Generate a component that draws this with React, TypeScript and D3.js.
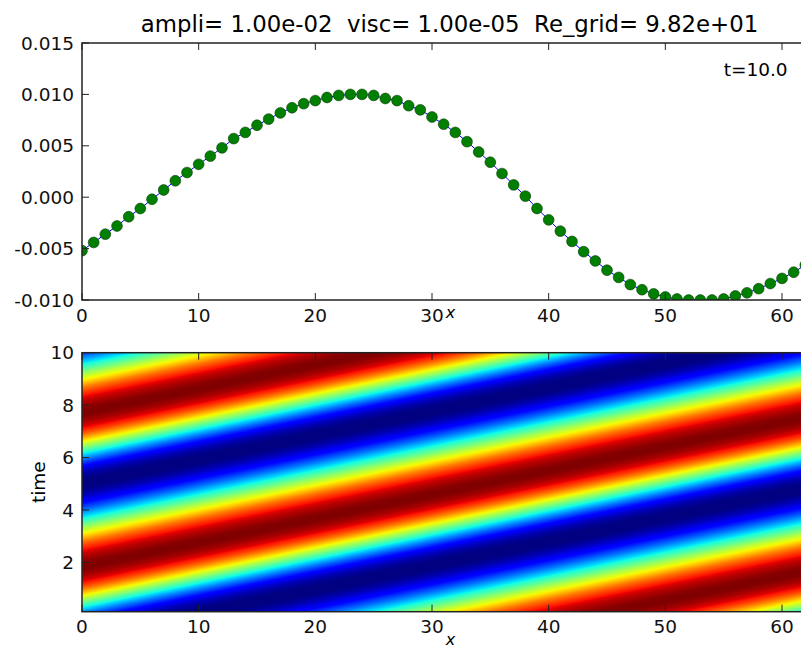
import React, { useEffect, useRef } from "react";
import * as d3 from "d3";

const W = 801;
const H = 651;

const title = "ampli= 1.00e-02  visc= 1.00e-05  Re_grid= 9.82e+01";
const timeLabel = "t=10.0";

// u at t = 10, one value per grid index
const uFinal = [
  -0.0052, -0.0044, -0.0036, -0.0028, -0.0019, -0.0011, -0.0002, 0.0007,
  0.0016, 0.0024, 0.0032, 0.004, 0.0048, 0.0057, 0.0063, 0.007,
  0.0076, 0.0082, 0.0087, 0.0091, 0.0094, 0.0097, 0.0099, 0.01,
  0.01, 0.0099, 0.0096, 0.0094, 0.0089, 0.0085, 0.0078, 0.0071,
  0.0063, 0.0054, 0.0044, 0.0034, 0.0023, 0.0012, 0.0001, -0.0011,
  -0.0022, -0.0033, -0.0043, -0.0053, -0.0062, -0.0071, -0.0078, -0.0085,
  -0.009, -0.0094, -0.0097, -0.0099, -0.01, -0.01, -0.01, -0.0099,
  -0.0096, -0.0093, -0.0089, -0.0084, -0.0079, -0.0073, -0.0066, -0.0059,
];

const xTicks = [0, 10, 20, 30, 40, 50, 60];
const uTicks = [-0.01, -0.005, 0.0, 0.005, 0.01, 0.015];
const tTicks = [2, 4, 6, 8, 10];
const xDomain = [0, 63];
const uDomain = [-0.01, 0.015];
const tDomain = [0.12, 10];
const colorDomain = [-0.01, 0.01];
// drift of the bands in the x-t map (grid index per unit time) and their offset
const bandSpeed = 10.9;
const bandOffset = -1.5;
const tFinal = 10;

// matplotlib "jet" stops
const jetR = [[0, 0], [0.35, 0], [0.66, 1], [0.89, 1], [1, 0.5]];
const jetG = [[0, 0], [0.125, 0], [0.375, 1], [0.64, 1], [0.91, 0], [1, 0]];
const jetB = [[0, 0.5], [0.11, 1], [0.34, 1], [0.65, 0], [1, 0]];

const font = "DejaVu Sans, Verdana, sans-serif";

export default function App() {
  const ref = useRef<SVGSVGElement>(null);

  useEffect(() => {
    const svg = d3.select(ref.current);
    svg.selectAll("*").remove();

    const top = { l: 82, r: 817, t: 43, b: 300 };
    const bot = { l: 82, r: 817, t: 352.7, b: 611.7 };

    const x1 = d3.scaleLinear().domain(xDomain).range([top.l, top.r]);
    const y1 = d3.scaleLinear().domain(uDomain).range([top.b, top.t]);
    const x2 = d3.scaleLinear().domain(xDomain).range([bot.l, bot.r]);
    const y2 = d3.scaleLinear().domain(tDomain).range([bot.b, bot.t]);

    const ch = (stops: number[][]) =>
      d3.scaleLinear().domain(stops.map((s) => s[0])).range(stops.map((s) => s[1])).clamp(true);
    const jr = ch(jetR), jg = ch(jetG), jb = ch(jetB);
    const norm = d3.scaleLinear().domain(colorDomain).range([0, 1]).clamp(true);

    const defs = svg.append("defs");
    defs.append("clipPath").attr("id", "clipTop")
      .append("rect").attr("x", top.l).attr("y", top.t)
      .attr("width", top.r - top.l).attr("height", top.b - top.t);

    // title (keep the double spaces)
    svg.append("text")
      .attr("x", (top.l + top.r) / 2).attr("y", 32)
      .attr("text-anchor", "middle")
      .attr("xml:space", "preserve")
      .style("white-space", "pre")
      .style("font-family", font).style("font-size", "22.8px")
      .text(title);

    // ---- top panel: line + dots
    const g1 = svg.append("g").attr("clip-path", "url(#clipTop)");
    const line = d3.line<number>().x((d, i) => x1(i)).y((d) => y1(d));
    g1.append("path").datum(uFinal)
      .attr("d", line).attr("fill", "none")
      .attr("stroke", "#0000ff").attr("stroke-width", 1);
    g1.selectAll("circle").data(uFinal).join("circle")
      .attr("cx", (d, i) => x1(i)).attr("cy", (d) => y1(d))
      .attr("r", 5.4).attr("fill", "#007f00")
      .attr("stroke", "#0a3a0a").attr("stroke-width", 0.6);

    svg.append("text")
      .attr("x", x1(55)).attr("y", y1(0.0118))
      .style("font-family", font).style("font-size", "18.5px")
      .text(timeLabel);

    // ---- bottom panel: x-t map
    const cw = Math.round(bot.r - bot.l);
    const chh = Math.round(bot.b - bot.t);
    const canvas = document.createElement("canvas");
    canvas.width = cw;
    canvas.height = chh;
    const ctx = canvas.getContext("2d")!;
    const img = ctx.createImageData(cw, chh);
    const n = uFinal.length;
    for (let r = 0; r < chh; r++) {
      const t = y2.invert(bot.t + (r + 0.5) * (bot.b - bot.t) / chh);
      for (let c = 0; c < cw; c++) {
        const x = x2.invert(bot.l + (c + 0.5) * (bot.r - bot.l) / cw);
        let s = x + bandSpeed * (tFinal - t) + bandOffset;
        s = ((s % n) + n) % n;
        const i0 = Math.floor(s);
        const f = s - i0;
        const v = uFinal[i0] * (1 - f) + uFinal[(i0 + 1) % n] * f;
        const k = norm(v);
        const p = (r * cw + c) * 4;
        img.data[p] = Math.round(jr(k) * 255);
        img.data[p + 1] = Math.round(jg(k) * 255);
        img.data[p + 2] = Math.round(jb(k) * 255);
        img.data[p + 3] = 255;
      }
    }
    ctx.putImageData(img, 0, 0);
    svg.append("image")
      .attr("href", canvas.toDataURL())
      .attr("x", bot.l).attr("y", bot.t)
      .attr("width", bot.r - bot.l).attr("height", bot.b - bot.t)
      .attr("preserveAspectRatio", "none");

    // ---- frames, ticks, labels
    const tickLen = 7;
    const frame = (b: typeof top) =>
      svg.append("rect").attr("x", b.l).attr("y", b.t)
        .attr("width", b.r - b.l).attr("height", b.b - b.t)
        .attr("fill", "none").attr("stroke", "#222").attr("stroke-width", 1.5);

    const axisTicks = (b: typeof top, xs: d3.ScaleLinear<number, number>, ys: d3.ScaleLinear<number, number>, yt: number[], yfmt: (v: number) => string) => {
      const g = svg.append("g").attr("stroke", "#222").attr("stroke-width", 1);
      xTicks.forEach((v) => {
        const px = xs(v);
        g.append("line").attr("x1", px).attr("x2", px).attr("y1", b.b).attr("y2", b.b - tickLen);
        g.append("line").attr("x1", px).attr("x2", px).attr("y1", b.t).attr("y2", b.t + tickLen);
      });
      yt.forEach((v) => {
        const py = ys(v);
        g.append("line").attr("x1", b.l).attr("x2", b.l + tickLen).attr("y1", py).attr("y2", py);
        g.append("line").attr("x1", b.r).attr("x2", b.r - tickLen).attr("y1", py).attr("y2", py);
      });
      const lab = svg.append("g").style("font-family", font).style("font-size", "18.5px").attr("fill", "#111");
      xTicks.forEach((v) => {
        lab.append("text").attr("x", xs(v)).attr("y", b.b + 21.5)
          .attr("text-anchor", "middle").text(String(v));
      });
      yt.forEach((v) => {
        lab.append("text").attr("x", b.l - 8).attr("y", ys(v)).attr("dy", "0.36em")
          .attr("text-anchor", "end").text(yfmt(v));
      });
    };

    frame(top);
    frame(bot);
    axisTicks(top, x1, y1, uTicks, (v) => (Math.abs(v) < 1e-12 ? "0.000" : v.toFixed(3)));
    axisTicks(bot, x2, y2, tTicks, (v) => String(v));

    // axis titles
    svg.append("text")
      .attr("x", (top.l + top.r) / 2 + 1).attr("y", 318)
      .attr("text-anchor", "middle")
      .style("font-family", font).style("font-size", "16px").style("font-style", "italic")
      .text("x");
    svg.append("text")
      .attr("x", (bot.l + bot.r) / 2 + 1).attr("y", 645)
      .attr("text-anchor", "middle")
      .style("font-family", font).style("font-size", "16px").style("font-style", "italic")
      .text("x");
    svg.append("text")
      .attr("transform", `translate(45,${(bot.t + bot.b) / 2}) rotate(-90)`)
      .attr("text-anchor", "middle")
      .style("font-family", font).style("font-size", "18.5px")
      .text("time");
  }, []);

  return (
    <div style={{ position: "absolute", left: 0, top: 0, width: W, height: H, overflow: "hidden", background: "#fff" }}>
      <svg ref={ref} width={W} height={H} style={{ display: "block", overflow: "hidden" }} />
    </div>
  );
}
